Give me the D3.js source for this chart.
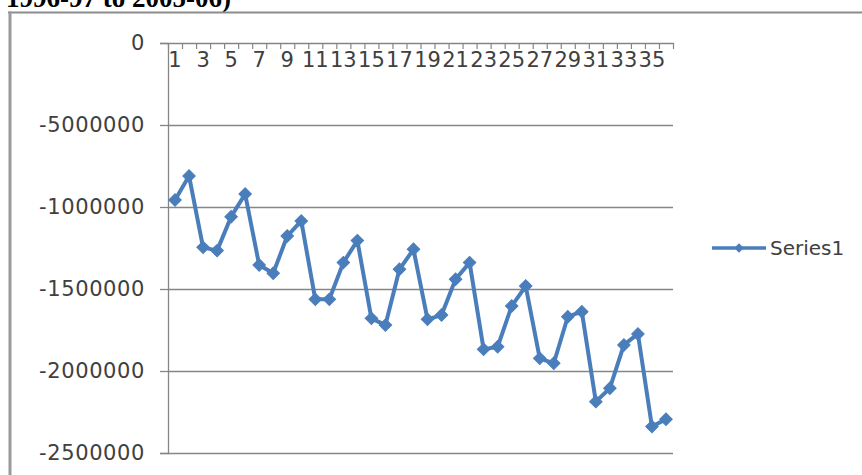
<!DOCTYPE html>
<html>
<head>
<meta charset="utf-8">
<script src="https://cdn.jsdelivr.net/npm/d3@7"></script>
<style>
  html, body { margin: 0; padding: 0; background: #ffffff; }
  svg { display: block; }
</style>
</head>
<body>
<svg id="chart" width="862" height="475"></svg>
<script>
// ---- data ----
const categories = d3.range(1, 37);
const series1 = [
  -957000, -811000, -1246000, -1266000, -1059000, -921000, -1354000, -1404000,
  -1177000, -1085000, -1563000, -1563000, -1339000, -1205000, -1679000, -1720000,
  -1380000, -1258000, -1685000, -1659000, -1441000, -1339000, -1868000, -1852000,
  -1604000, -1482000, -1923000, -1953000, -1669000, -1638000, -2187000, -2105000,
  -1841000, -1774000, -2339000, -2294000
];
const yTickValues = [0, -500000, -1000000, -1500000, -2000000, -2500000];
const yTickLabels = ["0", "-5000000", "-1000000", "-1500000", "-2000000", "-2500000"];
const xTickLabels = categories.filter(c => c % 2 === 1);
const seriesName = "Series1";
const titleText = "1996-97 to 2005-06)";

// ---- layout ----
const svg = d3.select("#chart");
const plot = { left: 168, right: 673, top: 43, bottom: 453 };
const lineColor = "#4A7EBB";
const axisColor = "#868686";
const textColor = "#404040";
const font = "'DejaVu Sans', sans-serif";

// title fragment (cut off at top, as in the reference)
svg.append("text")
  .attr("x", 6).attr("y", 7)
  .attr("font-family", "'Liberation Serif', 'Times New Roman', serif")
  .attr("font-weight", "bold")
  .attr("font-size", 27)
  .attr("fill", "#000")
  .text(titleText);

// chart frame
svg.append("line").attr("x1", 8).attr("x2", 862).attr("y1", 12.5).attr("y2", 12.5)
  .attr("stroke", "#8c8c8c").attr("stroke-width", 2);
svg.append("line").attr("x1", 10).attr("x2", 10).attr("y1", 11.5).attr("y2", 475)
  .attr("stroke", "#9a9a9a").attr("stroke-width", 3);

// scales
const x = d3.scaleBand().domain(categories).range([plot.left, plot.right]).padding(0);
const xEdge = d3.scaleLinear().domain([0, categories.length]).range([plot.left, plot.right]);
const y = d3.scaleLinear().domain([-2500000, 0]).range([plot.bottom, plot.top]);

// gridlines
svg.append("g")
  .selectAll("line")
  .data(yTickValues.filter(v => v !== 0))
  .join("line")
  .attr("x1", plot.left).attr("x2", plot.right)
  .attr("y1", d => Math.round(y(d)) + 0.5).attr("y2", d => Math.round(y(d)) + 0.5)
  .attr("stroke", axisColor).attr("stroke-width", 1.3);

// y axis
const yAxis = svg.append("g")
  .attr("transform", `translate(${plot.left},0)`)
  .call(d3.axisLeft(y)
    .tickValues(yTickValues)
    .tickSize(8)
    .tickPadding(15)
    .tickFormat((d, i) => yTickLabels[i]));
yAxis.select(".domain").attr("stroke", axisColor).attr("stroke-width", 1.3);
yAxis.selectAll(".tick line").attr("stroke", axisColor).attr("stroke-width", 1.3);
yAxis.selectAll("text")
  .attr("font-family", font).attr("font-size", 21).attr("fill", textColor)
  .attr("letter-spacing", 0.6);

// x axis: boundary ticks hanging down from the zero line
const xAxis = svg.append("g")
  .attr("transform", `translate(0,${plot.top})`)
  .call(d3.axisBottom(xEdge)
    .tickValues(d3.range(0, categories.length + 1))
    .tickSize(6)
    .tickSizeOuter(0)
    .tickFormat(""));
xAxis.select(".domain").attr("stroke", axisColor).attr("stroke-width", 1.3);
xAxis.selectAll(".tick line").attr("stroke", axisColor).attr("stroke-width", 1.2);

// x labels
const xLab = svg.append("g")
  .attr("transform", `translate(0,${plot.top})`)
  .call(d3.axisBottom(x)
    .tickValues(xTickLabels)
    .tickSize(0)
    .tickPadding(9)
    .tickFormat(d => String(d)));
xLab.select(".domain").remove();
xLab.selectAll("text")
  .attr("font-family", font).attr("font-size", 21).attr("fill", textColor);

// series line
const cx = d => x(d) + x.bandwidth() / 2;
svg.append("path")
  .datum(categories.map((c, i) => [c, series1[i]]))
  .attr("fill", "none")
  .attr("stroke", lineColor)
  .attr("stroke-width", 4)
  .attr("stroke-linejoin", "round")
  .attr("d", d3.line().x(d => cx(d[0])).y(d => y(d[1])));

// markers
const diamond = d3.symbol().type(d3.symbolSquare).size(78);
svg.append("g")
  .selectAll("path")
  .data(categories.map((c, i) => [c, series1[i]]))
  .join("path")
  .attr("d", diamond)
  .attr("transform", d => `translate(${cx(d[0])},${y(d[1])}) rotate(45)`)
  .attr("fill", lineColor)
  .attr("stroke", lineColor)
  .attr("stroke-width", 1);

// legend
const lg = svg.append("g").attr("transform", "translate(712,248)");
lg.append("line").attr("x1", 0).attr("x2", 54).attr("y1", 0).attr("y2", 0)
  .attr("stroke", lineColor).attr("stroke-width", 3.5);
lg.append("path").attr("d", d3.symbol().type(d3.symbolSquare).size(44))
  .attr("transform", "translate(27,0) rotate(45)")
  .attr("fill", lineColor);
lg.append("text")
  .attr("x", 58).attr("y", 0).attr("dy", "0.36em")
  .attr("font-family", font).attr("font-size", 20).attr("fill", textColor)
  .text(seriesName);
</script>
</body>
</html>
